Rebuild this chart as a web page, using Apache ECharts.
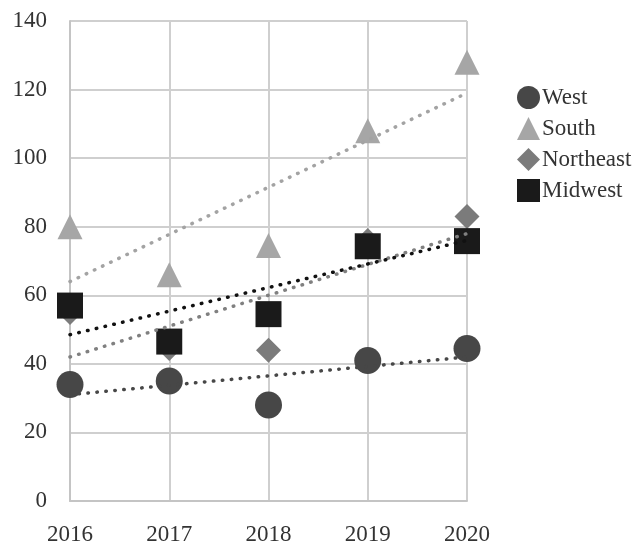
<!DOCTYPE html>
<html>
<head>
<meta charset="utf-8">
<script src="https://cdn.jsdelivr.net/npm/echarts@6/dist/echarts.min.js"></script>
<style>
  html, body { margin: 0; padding: 0; background: #fff; }
  #chart { width: 636px; height: 546px; }
</style>
</head>
<body>
<div id="chart"></div>
<script>
const years = ['2016', '2017', '2018', '2019', '2020'];
const westData = [34, 35, 28, 41, 44.5];
const southData = [80, 66, 74.5, 108, 128];
const northeastData = [55, 44.5, 44, 76, 83];
const midwestData = [57, 46.5, 54.5, 74.3, 75.8];
// trend line ends (2016, 2020)
const westTrend = [31, 42];
const southTrend = [64, 119];
const northeastTrend = [42, 78];
const midwestTrend = [48.5, 76];

const font = '"Liberation Serif", "Times New Roman", serif';

// put the two ends on the first and last category, gap in between
const trendData = (ends) => years.map((y, i) => {
  if (i === 0) return ends[0];
  if (i === years.length - 1) return ends[1];
  return '-';
});

const trend = (name, ends, color) => ({
  name: name + ' trend',
  type: 'line',
  data: trendData(ends),
  connectNulls: true,
  symbol: 'none',
  silent: true,
  z: 5,
  lineStyle: { color: color, width: 3.5, type: [0.5, 8.5], cap: 'round' },
});

const dots = (name, data, symbol, size, color) => ({
  name: name,
  type: 'scatter',
  data: data,
  symbol: symbol,
  symbolSize: size,
  itemStyle: { color: color, opacity: 1 },
  z: 3,
});

const myCharts = echarts.init(document.getElementById('chart'));
myCharts.setOption({
  animation: false,
  backgroundColor: '#fff',
  textStyle: { fontFamily: font },
  grid: { left: 70, right: 169, top: 21, bottom: 44 },
  legend: {
    data: ['West', 'South', 'Northeast', 'Midwest'],
    orient: 'vertical',
    left: 512,
    top: 81,
    itemWidth: 23,
    itemHeight: 23,
    itemGap: 8,
    textStyle: { fontFamily: font, fontSize: 23, color: '#333', padding: [0, 0, 0, -3] },
  },
  xAxis: {
    type: 'category',
    data: years,
    boundaryGap: false,
    axisLine: { lineStyle: { color: '#c4c4c4', width: 2 } },
    axisTick: { show: false },
    axisLabel: { margin: 22, fontSize: 23, color: '#333', fontFamily: font },
    splitLine: { show: true, lineStyle: { color: '#cfcfcf', width: 2 } },
  },
  yAxis: {
    type: 'value',
    min: 0,
    max: 140,
    interval: 20,
    axisLine: { show: true, lineStyle: { color: '#c4c4c4', width: 2 } },
    axisTick: { show: false },
    axisLabel: { margin: 23, fontSize: 23, color: '#333', fontFamily: font, padding: [7, 0, 0, 0] },
    splitLine: { lineStyle: { color: '#cfcfcf', width: 2 } },
  },
  series: [
    dots('West', westData, 'circle', 27, '#474747'),
    dots('South', southData, 'triangle', 25, '#a6a6a6'),
    dots('Northeast', northeastData, 'diamond', 25, '#7b7b7b'),
    dots('Midwest', midwestData, 'rect', 26, '#1a1a1a'),
    trend('West', westTrend, '#474747'),
    trend('South', southTrend, '#a3a3a3'),
    trend('Northeast', northeastTrend, '#808080'),
    trend('Midwest', midwestTrend, '#111111'),
  ],
});
</script>
</body>
</html>
